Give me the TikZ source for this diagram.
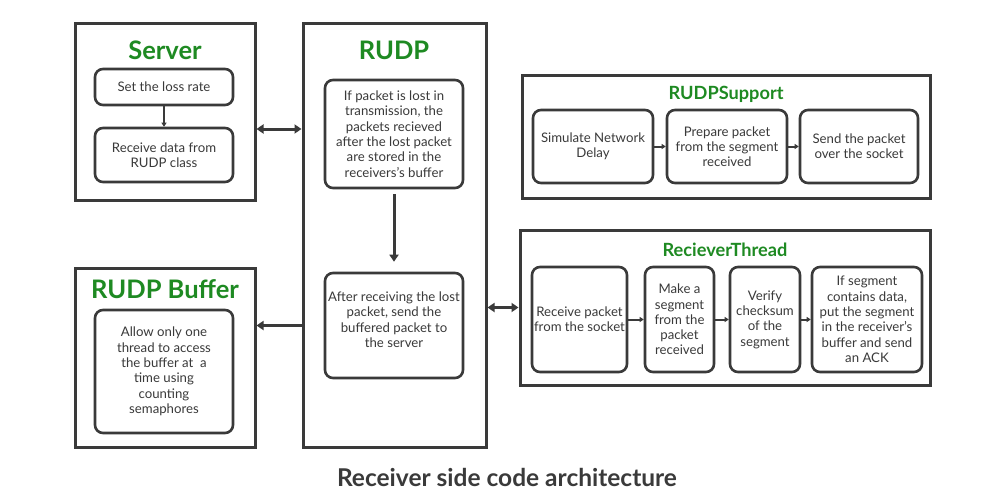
\documentclass[tikz,border=0pt]{standalone}
\usepackage{fontspec}
\setmainfont{Lato}
\usetikzlibrary{arrows.meta}
\definecolor{titlegreen}{HTML}{1E8A22}
\definecolor{linegray}{HTML}{3A3A3A}
\tikzset{
	outerbox/.style={draw=linegray, line width=3pt, inner sep=0pt},
	innerbox/.style={draw=linegray, line width=2.6pt, rounded corners=8pt, align=center, inner sep=0pt,
		text=linegray, font=\fontsize{13.2}{15.3}\selectfont},
	bigtitle/.style={text=titlegreen, font=\fontsize{25.5}{29}\selectfont\bfseries},
	smalltitle/.style={text=titlegreen, font=\fontsize{18.2}{22}\selectfont\bfseries},
	bigarrow/.style={draw=linegray, line width=3pt, -{Triangle[length=7pt,width=9pt]}},
	bigdouble/.style={bigarrow, {Triangle[length=7pt,width=9pt]}-{Triangle[length=7pt,width=9pt]}},
	smallarrow/.style={draw=linegray, line width=2pt, -{Triangle[length=4pt,width=5pt]}}
}
\begin{document}
\begin{tikzpicture}[x = 1pt, y = -1pt]
	\useasboundingbox[fill=white] (0,0) rectangle (1000,500);
	% Server
	\node [outerbox, minimum width=180pt, minimum height=176pt] (server) at (165,112) {};
	\node [bigtitle] (servertitle) at (165,50) {Server};
	\node [innerbox, minimum width=138pt, minimum height=36pt] (loss) at (164,87) {Set the loss rate};
	\node [innerbox, minimum width=138pt, minimum height=54pt] (recvdata) at (164,155) {Receive data from\\RUDP class};
	\draw [smallarrow] (loss) -- (recvdata);
	% RUDP
	\node [outerbox, minimum width=183pt, minimum height=423pt] (rudp) at (394.5,235.5) {};
	\node [bigtitle] (rudptitle) at (394,50) {RUDP};
	\node [innerbox, minimum width=138pt, minimum height=108pt] (lost) at (394,134) {If packet is lost in\\transmission, the\\packets recieved\\after the lost packet\\are stored in the\\receivers's buffer};
	\node [innerbox, minimum width=138pt, minimum height=105pt] (after) at (394,325.5) {After receiving the lost\\packet, send the\\buffered packet to\\the server\\[-3.3pt]};
	\draw [bigarrow, shorten <=5pt, shorten >=10pt] (lost) -- (after);
	% RUDP Buffer
	\node [outerbox, minimum width=180pt, minimum height=179pt] (buffer) at (165,357.5) {};
	\node [bigtitle] (buffertitle) at (165,289) {RUDP Buffer};
	\node [innerbox, minimum width=138pt, minimum height=123pt] (allow) at (164,371.5) {Allow only one\\thread to access\\the buffer at~~a\\time using\\counting\\semaphores};
	% RUDPSupport
	\node [outerbox, minimum width=408pt, minimum height=122pt] (support) at (726,137) {};
	\node [smalltitle] (supporttitle) at (726,94) {RUDPSupport};
	\node [innerbox, minimum width=120pt, minimum height=73pt] (delay) at (593,146.5) {Simulate Network\\Delay};
	\node [innerbox, minimum width=120pt, minimum height=73pt] (prepare) at (727,146.5) {Prepare packet\\from the segment\\received};
	\node [innerbox, minimum width=118pt, minimum height=73pt] (send) at (859,146.5) {Send the packet\\over the socket};
	\draw [smallarrow] (delay) -- (prepare);
	\draw [smallarrow] (prepare) -- (send);
	% RecieverThread
	\node [outerbox, minimum width=410pt, minimum height=155pt] (thread) at (725,307.5) {};
	\node [smalltitle] (threadtitle) at (725,250) {RecieverThread};
	\node [innerbox, minimum width=95pt, minimum height=105pt] (recvsock) at (579.5,319.5) {Receive packet\\from the socket};
	\node [innerbox, minimum width=69pt, minimum height=105pt] (mkseg) at (679.5,319.5) {Make a\\segment\\from the\\packet\\received};
	\node [innerbox, minimum width=70pt, minimum height=105pt] (verify) at (765,319.5) {Verify\\checksum\\of the\\segment};
	\node [innerbox, minimum width=110pt, minimum height=105pt] (ifseg) at (867,319.5) {If segment\\contains data,\\put the segment\\in the receiver's\\buffer and send\\an ACK};
	\draw [smallarrow] (recvsock) -- (mkseg);
	\draw [smallarrow] (mkseg) -- (verify);
	\draw [smallarrow] (verify) -- (ifseg);
	% connections
	\draw [bigdouble] ([yshift=-17pt]server.east) -- ([yshift=-17pt]server.east -| rudp.west);
	\draw [bigarrow] (rudp.west |- after) -- (buffer.east |- after);
	\draw [bigdouble] (rudp.east |- thread) -- (thread.west);
	\node [text=linegray, font=\fontsize{24.5}{28}\selectfont\bfseries] (caption) at (507,477) {Receiver side code architecture};
\end{tikzpicture}
\end{document}
